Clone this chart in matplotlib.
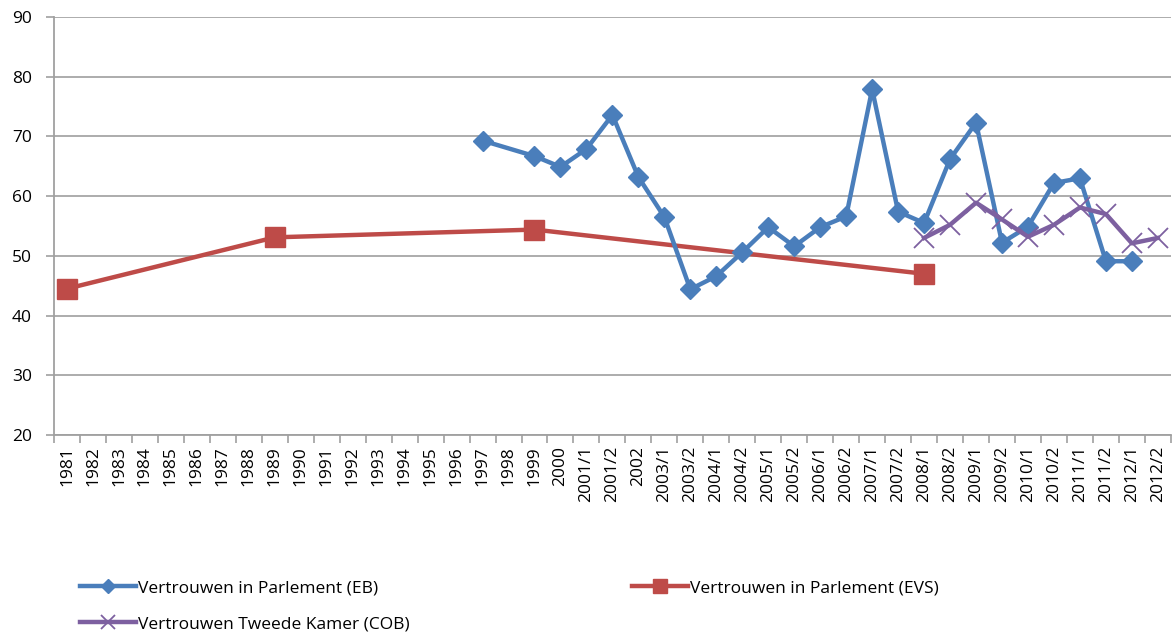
import numpy as np
import matplotlib.pyplot as plt

plt.rcParams['font.family'] = ['Open Sans', 'DejaVu Sans']

# categorieen op de x-as
jaren = [str(j) for j in range(1981, 2001)]
halfjaren = ['2001/1', '2001/2', '2002', '2003/1', '2003/2', '2004/1', '2004/2',
             '2005/1', '2005/2', '2006/1', '2006/2', '2007/1', '2007/2',
             '2008/1', '2008/2', '2009/1', '2009/2', '2010/1', '2010/2',
             '2011/1', '2011/2', '2012/1', '2012/2']
categorieen = jaren + halfjaren

# Eurobarometer
eb_labels = ['1997', '1999', '2000', '2001/1', '2001/2', '2002', '2003/1', '2003/2',
             '2004/1', '2004/2', '2005/1', '2005/2', '2006/1', '2006/2', '2007/1',
             '2007/2', '2008/1', '2008/2', '2009/1', '2009/2', '2010/1', '2010/2',
             '2011/1', '2011/2', '2012/1']
eb_waarden = [69.3, 66.7, 64.9, 67.9, 73.6, 63.2, 56.5, 44.4,
              46.6, 50.6, 54.8, 51.6, 54.8, 56.6, 77.9,
              57.4, 55.5, 66.2, 72.3, 52.2, 54.9, 62.2,
              63.0, 49.1, 49.1]

# European Values Study
evs_labels = ['1981', '1989', '1999', '2008/1']
evs_waarden = [44.5, 53.1, 54.4, 47.0]

# COB
cob_labels = ['2008/1', '2008/2', '2009/1', '2009/2', '2010/1', '2010/2',
              '2011/1', '2011/2', '2012/1', '2012/2']
cob_waarden = [53.0, 55.2, 58.9, 56.1, 53.2, 55.2, 58.1, 57.0, 52.1, 53.0]

pos = {c: i for i, c in enumerate(categorieen)}

fig = plt.figure(figsize=(11.72, 6.34), dpi=100)
ax = fig.add_axes([54/1172, 1-435/634, 1-54/1172 - 0.001, (435-17)/634])

l1, = ax.plot([pos[c] for c in eb_labels], eb_waarden, color='#4A7EBB', lw=3.2,
              marker='D', ms=10, mec='#4A7EBB', label='Vertrouwen in Parlement (EB)', zorder=3)
l2, = ax.plot([pos[c] for c in evs_labels], evs_waarden, color='#BE4B48', lw=3.2,
              marker='s', ms=14, mec='#BE4B48', label='Vertrouwen in Parlement (EVS)', zorder=2)
l3, = ax.plot([pos[c] for c in cob_labels], cob_waarden, color='#7D60A0', lw=3.2,
              marker='x', ms=14, mew=1.3, label='Vertrouwen Tweede Kamer (COB)', zorder=4)

ax.set_xlim(-0.5, len(categorieen) - 0.5)
ax.set_ylim(20, 90)
ax.set_yticks(range(20, 91, 10))
ax.set_xticks(range(len(categorieen)))
ax.set_xticklabels(categorieen, rotation=90, fontsize=12.5)
ax.set_xticks(np.arange(-0.5, len(categorieen), 1), minor=True)
ax.tick_params(axis='x', which='major', length=0, pad=8)
ax.tick_params(axis='x', which='minor', length=6, color='#A0A0A0', width=1.2)
ax.tick_params(axis='y', length=6, color='#A0A0A0', width=1.2, labelsize=12.5, pad=10)

ax.grid(axis='y', color='#A6A6A6', lw=1.3)
ax.set_axisbelow(True)
for s in ['top', 'right']:
    ax.spines[s].set_visible(False)
for s in ['left', 'bottom']:
    ax.spines[s].set_color('#A0A0A0')
    ax.spines[s].set_linewidth(1.3)

leg = fig.legend([l1, l3, l2], [l1.get_label(), l3.get_label(), l2.get_label()],
                 ncol=2, loc='upper left', bbox_to_anchor=(80/1172, 1-580/634),
                 frameon=False, fontsize=12.5, handlelength=3.2, handletextpad=0.15,
                 columnspacing=12.8, labelspacing=1.15, borderaxespad=0, borderpad=0,
                 markerscale=0.7)

fig.savefig('out.png', dpi=100)
